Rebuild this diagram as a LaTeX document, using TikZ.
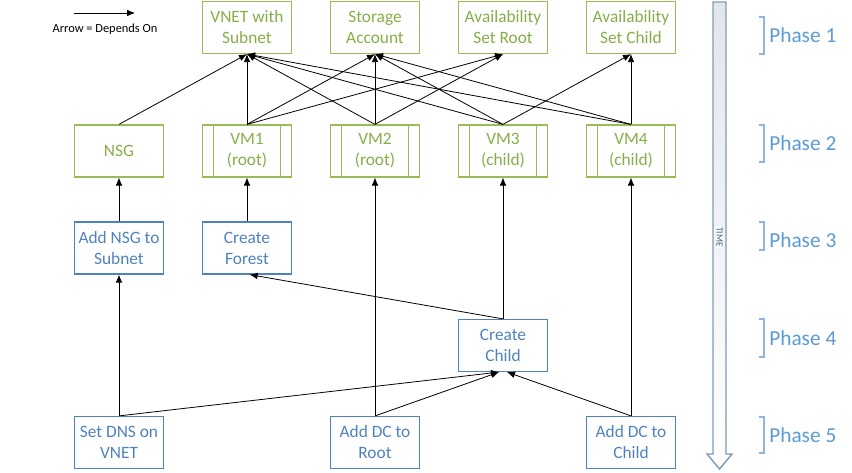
\documentclass[tikz,border=0pt]{standalone}
\usepackage{fontspec}
\setmainfont{Carlito}
\usetikzlibrary{arrows.meta}

\definecolor{vmgreen}{HTML}{9BBB59}
\definecolor{vmtext}{HTML}{86AD48}
\definecolor{taskblue}{HTML}{4F81BD}
\definecolor{phaseblue}{HTML}{5B9BD5}
\definecolor{bracketblue}{HTML}{8DB4E2}
\definecolor{timeline}{HTML}{7F9DB9}
\definecolor{timetop}{HTML}{E2E6EC}

\tikzset{
  box/.style={draw, line width=0.9pt, minimum width=66.75pt, minimum height=39pt,
    align=center, inner sep=0pt, font=\fontsize{13}{15.8}\selectfont},
  greenbox/.style={box, draw=vmgreen, text=vmtext},
  vmbox/.style={greenbox, path picture={
    \draw[vmgreen, line width=0.9pt]
      ([xshift=8.25pt]path picture bounding box.south west) -- ([xshift=8.25pt]path picture bounding box.north west)
      ([xshift=-8.25pt]path picture bounding box.south east) -- ([xshift=-8.25pt]path picture bounding box.north east);}},
  bluebox/.style={box, draw=taskblue, text=taskblue},
  dep/.style={line width=0.6pt, -{Latex[length=6pt,width=5pt]}},
  phase/.style={anchor=west, inner sep=0pt, text=phaseblue, font=\fontsize{16}{19}\selectfont},
}

\begin{document}
\begin{tikzpicture}[x=0.75pt,y=-0.75pt]
\useasboundingbox (0,0) rectangle (852,473);

% legend
\coordinate (lega) at (74,13);
\coordinate (legb) at (135,13);
\draw [dep] (lega) -- (legb);
\node [font=\fontsize{9.3}{11}\selectfont] (legtext) at (105,29) {Arrow = Depends On};

% phase 1
\node [greenbox] (vnet) at (247,27.5) {VNET with\\Subnet};
\node [greenbox] (storage) at (375,27.5) {Storage\\Account};
\node [greenbox] (avroot) at (503,27.5) {Availability\\Set Root};
\node [greenbox] (avchild) at (631,27.5) {Availability\\Set Child};

% phase 2
\node [greenbox] (nsg) at (119,151) {NSG};
\node [vmbox] (vm1) at (247,151) {VM1\\(root)};
\node [vmbox] (vm2) at (375,151) {VM2\\(root)};
\node [vmbox] (vm3) at (503,151) {VM3\\(child)};
\node [vmbox] (vm4) at (631,151) {VM4\\(child)};

% phase 3, 4, 5
\node [bluebox] (addnsg) at (119,248) {Add NSG to\\Subnet};
\node [bluebox] (forest) at (247,248) {Create\\Forest};
\node [bluebox] (child) at (503,345.5) {Create\\Child};
\node [bluebox] (setdns) at (119,442.5) {Set DNS on\\VNET};
\node [bluebox] (dcroot) at (375,442.5) {Add DC to\\Root};
\node [bluebox] (dcchild) at (631,442.5) {Add DC to\\Child};

% dependencies
\draw [dep] (nsg.north) -- (vnet.south);
\foreach \vm in {vm1,vm2,vm3,vm4} {
  \draw [dep] (\vm.north) -- (vnet.south);
  \draw [dep] (\vm.north) -- (storage.south);
}
\draw [dep] (vm1.north) -- (avroot.south);
\draw [dep] (vm2.north) -- (avroot.south);
\draw [dep] (vm3.north) -- (avchild.south);
\draw [dep] (vm4.north) -- (avchild.south);

\draw [dep] (addnsg) -- (nsg);
\draw [dep] (forest) -- (vm1);
\draw [dep] (child.north) -- (vm3.south);
\draw [dep] (child.north) -- ([xshift=2pt]forest.south);
\draw [dep] (setdns.north) -- (addnsg.south);
\draw [dep] (setdns.north) -- ([xshift=-3pt]child.south);
\draw [dep] (dcroot.north) -- (vm2.south);
\draw [dep] (dcroot.north) -- ([xshift=-3pt]child.south);
\draw [dep] (dcchild.north) -- (vm4.south);
\draw [dep] (dcchild.north) -- ([xshift=3pt]child.south);

% time arrow
\draw [timeline, line width=1.1pt, top color=timetop, bottom color=white]
  (713,2) -- (726,2) -- (726,454) -- (732,454) -- (719.5,469) -- (707,454) -- (713,454) -- cycle;
\node [fill=white, rotate=-90, inner sep=0.6pt, text=taskblue!70!black,
  font=\fontsize{7}{8}\selectfont] (time) at (719.5,237) {TIME};

% phases
\foreach \n/\ya/\yb/\yt in {1/17/54/35, 2/125/162/143, 3/222/250/240, 4/319/357/338, 5/417/453/435} {
  \draw [bracketblue, line width=0.8pt] (759,\ya) -- (764,\ya) -- (764,\yb) -- (759,\yb);
  \node [phase] (phase\n) at (769,\yt) {Phase \n};
}
\end{tikzpicture}
\end{document}
